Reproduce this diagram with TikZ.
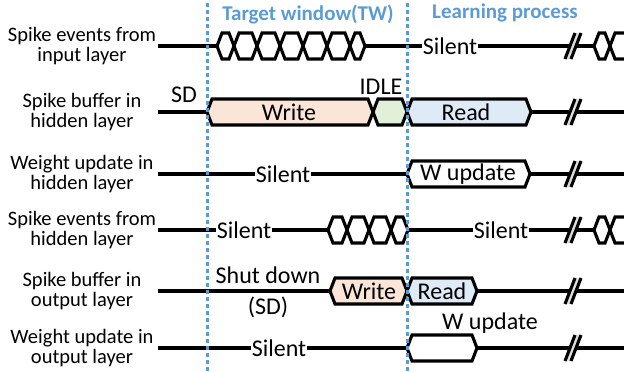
\documentclass[tikz,border=0pt]{standalone}
\usepackage{fontspec}
\setmainfont{Carlito}
\definecolor{tw}{RGB}{91,155,213}
\definecolor{wr}{RGB}{251,229,214}
\definecolor{idl}{RGB}{226,240,217}
\definecolor{rd}{RGB}{222,235,247}
\newcommand{\hexcell}[4]{\filldraw[sig,fill=#4] (#1,#3) -- ({#1+5},{#3-13}) -- ({#2-5},{#3-13}) -- (#2,#3) -- ({#2-5},{#3+13}) -- ({#1+5},{#3+13}) -- cycle;}
\newcommand{\brk}[2]{\fill[gray!25] (#1,{#2+13}) -- ({#1+10},{#2-13}) -- ({#1+16},{#2-13}) -- ({#1+6},{#2+13}) -- cycle;
  \draw[sig] (#1,{#2+13}) -- ({#1+10},{#2-13}); \draw[sig] ({#1+6},{#2+13}) -- ({#1+16},{#2-13});}
\begin{document}
\begin{tikzpicture}[x=1pt,y=-1pt,
  sig/.style={line width=3.1pt},
  lbl/.style={font=\fontsize{20.5}{20}\selectfont, align=center, inner sep=0pt},
  txt/.style={font=\fontsize{24}{24}\selectfont, inner xsep=0.8pt, inner ysep=0pt},
  hdr/.style={font=\bfseries\fontsize{21}{20}\selectfont, text=tw, inner sep=0pt},
  twline/.style={line width=3pt, draw=tw, dash pattern=on 4pt off 3pt}]
\useasboundingbox (0,0) rectangle (624,372);
\clip (0,0) rectangle (624,372);

% headers
\node[hdr] (h1) at (308,14) {Target window(TW)};
\node[hdr] (h2) at (505,13) {Learning process};

% row labels
\node[lbl] (l1) at (82,46) {Spike events from\\input layer};
\node[lbl] (l2) at (82,112) {Spike buffer in\\hidden layer};
\node[lbl] (l3) at (82,174) {Weight update in\\hidden layer};
\node[lbl] (l4) at (82,230) {Spike events from\\hidden layer};
\node[lbl] (l5) at (82,291) {Spike buffer in\\output layer};
\node[lbl] (l6) at (82,348) {Weight update in\\output layer};

% ---------- row 1 ----------
\coordinate (r1a) at (158,46);
\coordinate (r1b) at (217,46);
\coordinate (r1c) at (365,46);
\coordinate (r1d) at (571,46);
\coordinate (r1e) at (577,46);
\coordinate (r1f) at (594,46);
\node[txt] (s1) at (450,46) {Silent};
\draw[sig] (r1a) -- (r1b);
\hexcell{217}{234}{46}{white}\hexcell{234}{257}{46}{white}\hexcell{257}{280}{46}{white}
\hexcell{280}{303}{46}{white}\hexcell{303}{327}{46}{white}\hexcell{327}{350}{46}{white}
\hexcell{350}{365}{46}{white}
\draw[sig] (r1c) -- (s1.west);
\draw[sig] (s1.east) -- (r1d);
\brk{565}{46}
\draw[sig] (r1e) -- (r1f);
\hexcell{594}{610}{46}{white}\hexcell{610}{633}{46}{white}

% ---------- row 2 ----------
\coordinate (r2a) at (158,112);
\coordinate (r2b) at (207,112);
\coordinate (r2c) at (531,112);
\coordinate (r2d) at (571,112);
\coordinate (r2e) at (577,112);
\coordinate (r2f) at (630,112);
\node[txt] (sd) at (184,95) {SD};
\draw[sig] (r2a) -- (r2b);
\hexcell{207}{373}{112}{wr}
\hexcell{373}{407}{112}{idl}
\hexcell{407}{531}{112}{rd}
\node[txt] (w2) at (289,112) {Write};
\node[txt] (idle) at (381,87) {IDLE};
\node[txt] (rd2) at (466,112) {Read};
\draw[sig] (r2c) -- (r2d);
\brk{565}{112}
\draw[sig] (r2e) -- (r2f);

% ---------- row 3 ----------
\coordinate (r3a) at (158,174);
\coordinate (r3b) at (407,174);
\coordinate (r3c) at (530,174);
\coordinate (r3d) at (571,174);
\coordinate (r3e) at (577,174);
\coordinate (r3f) at (630,174);
\node[txt] (s3) at (283,174) {Silent};
\draw[sig] (r3a) -- (s3.west);
\draw[sig] (s3.east) -- (r3b);
\hexcell{407}{530}{174}{white}
\node[txt] (wu3) at (468,174) {W update};
\draw[sig] (r3c) -- (r3d);
\brk{565}{174}
\draw[sig] (r3e) -- (r3f);

% ---------- row 4 ----------
\coordinate (r4a) at (158,230);
\coordinate (r4b) at (328,230);
\coordinate (r4c) at (408,230);
\coordinate (r4d) at (571,230);
\coordinate (r4e) at (577,230);
\coordinate (r4f) at (594,230);
\node[txt] (s4a) at (244,230) {Silent};
\node[txt] (s4b) at (501,230) {Silent};
\draw[sig] (r4a) -- (s4a.west);
\draw[sig] (s4a.east) -- (r4b);
\hexcell{328}{347}{230}{white}\hexcell{347}{369}{230}{white}
\hexcell{369}{391}{230}{white}\hexcell{391}{408}{230}{white}
\draw[sig] (r4c) -- (s4b.west);
\draw[sig] (s4b.east) -- (r4d);
\brk{565}{230}
\draw[sig] (r4e) -- (r4f);
\hexcell{594}{610}{230}{white}\hexcell{610}{633}{230}{white}

% ---------- row 5 ----------
\coordinate (r5a) at (158,291);
\coordinate (r5b) at (330,291);
\coordinate (r5c) at (477,291);
\coordinate (r5d) at (571,291);
\coordinate (r5e) at (577,291);
\coordinate (r5f) at (630,291);
\node[txt] (shd) at (268,275) {Shut down};
\node[txt] (sdp) at (268,307) {(SD)};
\draw[sig] (r5a) -- (r5b);
\hexcell{330}{407}{291}{wr}
\hexcell{407}{477}{291}{rd}
\node[txt] (w5) at (369,291) {Write};
\node[txt] (rd5) at (442,291) {Read};
\draw[sig] (r5c) -- (r5d);
\brk{565}{291}
\draw[sig] (r5e) -- (r5f);

% ---------- row 6 ----------
\coordinate (r6a) at (158,348);
\coordinate (r6b) at (407,348);
\coordinate (r6c) at (477,348);
\coordinate (r6d) at (571,348);
\coordinate (r6e) at (577,348);
\coordinate (r6f) at (630,348);
\node[txt] (s6) at (279,348) {Silent};
\draw[sig] (r6a) -- (s6.west);
\draw[sig] (s6.east) -- (r6b);
\hexcell{407}{477}{348}{white}
\node[txt] (wu6) at (490,323) {W update};
\draw[sig] (r6c) -- (r6d);
\brk{565}{348}
\draw[sig] (r6e) -- (r6f);

% target window boundaries
\coordinate (t1a) at (207,3);
\coordinate (t1b) at (207,372);
\coordinate (t2a) at (407,3);
\coordinate (t2b) at (407,372);
\draw[twline] (t1a) -- (t1b);
\draw[twline] (t2a) -- (t2b);
\end{tikzpicture}
\end{document}
